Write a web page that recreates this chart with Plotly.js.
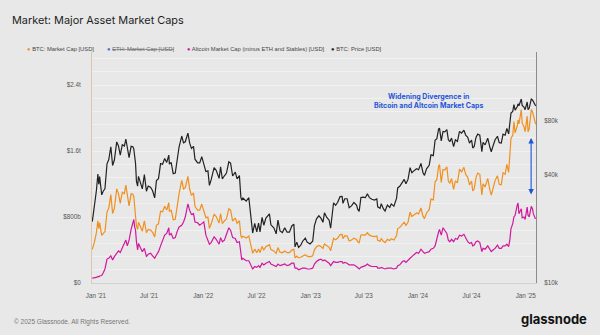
<!DOCTYPE html>
<html>
<head>
<meta charset="utf-8">
<script src="https://cdn.plot.ly/plotly-3.0.1.min.js"></script>
<style>
  html, body { margin: 0; padding: 0; background: #e8e8e8; }
  #chart { width: 600px; height: 335px; }
</style>
</head>
<body>
<div id="chart"></div>
<script>
// Dates (sampled), BTC price (thousand USD), BTC market cap (billion USD), Altcoin cap ex ETH & stables (billion USD)
const dates = [
"2020-12-20","2020-12-27","2021-01-03","2021-01-08","2021-01-11","2021-01-14","2021-01-21","2021-01-26","2021-02-01","2021-02-08",
"2021-02-14","2021-02-21","2021-02-27","2021-03-05","2021-03-13","2021-03-19","2021-03-25","2021-04-01","2021-04-08","2021-04-13",
"2021-04-18","2021-04-24","2021-05-01","2021-05-07","2021-05-10","2021-05-13","2021-05-16","2021-05-19","2021-05-23","2021-05-26",
"2021-06-01","2021-06-08","2021-06-15","2021-06-22","2021-06-28","2021-07-06","2021-07-13","2021-07-20","2021-07-26","2021-08-02",
"2021-08-09","2021-08-16","2021-08-23","2021-08-30","2021-09-06","2021-09-08","2021-09-14","2021-09-21","2021-09-28","2021-10-04",
"2021-10-11","2021-10-20","2021-10-26","2021-11-01","2021-11-08","2021-11-10","2021-11-16","2021-11-22","2021-11-29","2021-12-04",
"2021-12-13","2021-12-20","2021-12-27","2022-01-03","2022-01-10","2022-01-17","2022-01-22","2022-01-28","2022-02-07","2022-02-14",
"2022-02-24","2022-03-01","2022-03-07","2022-03-14","2022-03-21","2022-03-29","2022-04-04","2022-04-11","2022-04-20","2022-04-26",
"2022-05-04","2022-05-09","2022-05-12","2022-05-16","2022-05-27","2022-06-05","2022-06-13","2022-06-18","2022-06-25","2022-07-02",
"2022-07-08","2022-07-13","2022-07-20","2022-07-26","2022-08-02","2022-08-08","2022-08-14","2022-08-19","2022-08-29","2022-09-06",
"2022-09-12","2022-09-19","2022-09-27","2022-10-05","2022-10-13","2022-10-21","2022-10-29","2022-11-05","2022-11-09","2022-11-15",
"2022-11-21","2022-11-28","2022-12-05","2022-12-14","2022-12-20","2022-12-30","2023-01-08","2023-01-14","2023-01-21","2023-01-29",
"2023-02-05","2023-02-12","2023-02-17","2023-02-25","2023-03-05","2023-03-10","2023-03-15","2023-03-20","2023-03-27","2023-04-03",
"2023-04-11","2023-04-18","2023-04-21","2023-04-27","2023-05-05","2023-05-12","2023-05-20","2023-05-28","2023-06-06","2023-06-10",
"2023-06-15","2023-06-21","2023-06-28","2023-07-06","2023-07-13","2023-07-20","2023-07-28","2023-08-06","2023-08-14","2023-08-17",
"2023-08-25","2023-08-29","2023-09-06","2023-09-11","2023-09-19","2023-09-27","2023-10-02","2023-10-11","2023-10-20","2023-10-24",
"2023-10-31","2023-11-09","2023-11-15","2023-11-21","2023-11-28","2023-12-05","2023-12-11","2023-12-19","2023-12-27","2024-01-03",
"2024-01-11","2024-01-18","2024-01-23","2024-01-30","2024-02-08","2024-02-14","2024-02-22","2024-02-28","2024-03-05","2024-03-11",
"2024-03-14","2024-03-20","2024-03-26","2024-04-01","2024-04-08","2024-04-13","2024-04-18","2024-04-24","2024-05-01","2024-05-07",
"2024-05-14","2024-05-21","2024-05-28","2024-06-05","2024-06-11","2024-06-18","2024-06-24","2024-07-01","2024-07-05","2024-07-10",
"2024-07-16","2024-07-22","2024-07-29","2024-08-05","2024-08-09","2024-08-16","2024-08-25","2024-09-01","2024-09-06","2024-09-12",
"2024-09-19","2024-09-27","2024-10-03","2024-10-10","2024-10-16","2024-10-23","2024-10-29","2024-11-04","2024-11-08","2024-11-12",
"2024-11-18","2024-11-22","2024-11-26","2024-12-03","2024-12-06","2024-12-09","2024-12-17","2024-12-20","2024-12-26","2024-12-30",
"2025-01-06","2025-01-09","2025-01-13","2025-01-20","2025-01-24","2025-01-27","2025-02-03","2025-02-04"
];

const btcPrice = [
22.0,26.5,32.8,40.5,35.5,39.2,31.0,32.5,33.5,46.2,
48.8,57.5,45.2,48.5,61.2,58.1,51.7,59.0,58.0,63.5,
56.2,50.0,57.8,57.5,56.0,49.7,46.4,37.0,34.7,39.3,
36.7,33.5,40.2,32.5,34.7,34.2,32.7,29.8,37.3,38.2,
46.3,45.9,49.5,47.0,51.7,46.0,47.1,40.7,41.0,49.1,
57.5,66.0,60.5,61.3,67.5,68.5,60.2,56.3,57.8,49.0,
46.7,46.7,50.6,46.4,41.8,42.2,35.0,37.7,44.0,42.5,
38.3,44.4,38.0,39.6,41.0,47.4,46.6,39.5,41.5,38.1,
39.7,30.0,28.9,29.8,28.6,29.9,22.5,19.0,21.5,19.3,
21.6,19.3,23.2,21.0,23.0,23.8,24.3,21.1,20.3,18.8,
22.4,19.5,19.1,20.3,19.2,19.2,20.8,21.3,15.9,16.9,
15.8,16.2,17.1,17.8,16.9,16.5,17.1,20.9,22.8,23.7,
23.0,21.8,24.6,23.2,22.4,20.2,24.7,28.0,27.1,28.2,
30.3,30.4,27.8,29.5,29.5,26.3,26.9,28.1,27.2,25.8,
25.1,30.0,30.1,29.9,31.4,29.9,29.3,29.0,29.4,26.6,
26.1,27.7,25.8,25.2,27.2,26.4,27.6,26.8,29.6,33.9,
34.6,36.7,37.8,35.8,37.8,44.0,41.2,42.3,43.4,42.8,
46.4,41.2,39.8,43.3,45.3,51.8,51.3,62.5,63.8,72.1,
73.1,62.0,70.0,69.6,71.6,63.0,61.3,64.3,57.6,62.9,
61.6,70.1,68.4,71.1,66.8,65.0,60.3,62.7,56.6,57.7,
64.8,67.6,66.8,54.0,60.9,58.9,64.2,57.3,53.9,58.1,
62.9,65.8,60.6,60.3,67.6,66.7,72.7,67.8,76.5,88.7,
90.5,98.9,91.9,96.0,99.8,97.4,106.1,97.8,95.8,92.6,
102.1,92.5,94.5,106.1,104.8,102.0,97.7,97.0
];

const btcCap = [
409,492,610,753,660,729,577,605,624,860,
908,1071,842,904,1141,1083,964,1101,1083,1186,
1050,934,1081,1076,1048,930,869,693,650,736,
688,628,753,609,650,641,613,559,700,717,
870,863,931,885,973,866,887,767,772,925,
1083,1244,1140,1156,1273,1292,1136,1063,1092,926,
883,883,957,878,792,799,663,714,834,806,
727,842,721,752,778,900,885,751,789,724,
755,571,550,567,545,570,429,362,410,368,
412,368,443,401,439,455,465,404,389,360,
429,374,366,389,368,368,399,409,305,325,
304,312,329,342,325,317,329,402,439,456,
443,420,474,447,432,390,477,541,523,545,
586,588,538,571,571,509,521,544,527,500,
487,582,584,580,609,580,569,563,571,517,
507,538,502,490,529,514,537,522,576,660,
674,715,737,698,737,860,806,827,849,838,
909,807,780,849,889,1017,1007,1227,1253,1417,
1437,1219,1376,1369,1409,1240,1207,1266,1134,1238,
1213,1381,1348,1402,1317,1281,1189,1236,1116,1138,
1278,1333,1318,1066,1202,1163,1268,1132,1065,1148,
1243,1300,1197,1191,1336,1318,1437,1340,1513,1755,
1791,1958,1819,1900,1976,1929,2101,1937,1897,1834,
2022,1832,1872,2102,2077,2021,1936,1922
];

const altCap = [
60,62,68,80,75,85,90,120,170,290,
300,330,280,320,370,390,370,430,490,520,
450,520,650,740,770,680,640,500,400,480,
440,380,420,320,350,360,330,300,340,380,
450,520,580,600,670,580,600,540,550,620,
680,700,740,800,920,960,880,830,840,740,
730,700,720,740,580,500,470,490,560,530,
470,550,500,520,580,670,640,550,540,490,
500,360,280,300,270,270,200,170,200,190,
210,190,240,220,240,250,260,230,210,200,
230,210,220,230,210,220,240,240,180,180,
160,170,180,180,170,170,180,230,260,280,
290,270,280,260,240,210,240,260,250,250,
260,260,240,250,240,220,220,220,200,180,
170,190,200,210,230,210,200,200,200,180,
180,190,180,170,180,180,180,170,180,210,
220,260,270,250,270,300,320,340,370,360,
410,380,360,370,380,410,420,450,550,620,
650,580,670,630,600,520,500,530,500,540,
530,580,570,590,550,500,480,490,450,460,
500,510,490,380,420,410,450,410,380,400,
420,460,420,420,450,450,470,440,520,660,
720,800,820,940,970,840,900,790,800,770,
920,820,800,930,900,840,780,790
];

const leftTickVals = [0, 800, 1600, 2400];
const leftTickText = ["$0", "$800b", "$1.6t", "$2.4t"];
const rightTickVals = [10, 40, 80];
const rightTickText = ["$10k", "$40k", "$80k"];
const xTickVals = ["2021-01-01","2021-07-01","2022-01-01","2022-07-01","2023-01-01","2023-07-01","2024-01-01","2024-07-01","2025-01-01"];
const xTickText = ["Jan '21","Jul '21","Jan '22","Jul '22","Jan '23","Jul '23","Jan '24","Jul '24","Jan '25"];

const FONT = "'Liberation Sans', Arial, sans-serif";
const TITLEFONT = "Inter, 'Liberation Sans', Arial, sans-serif";
const ORANGE = "#f0901e", MAGENTA = "#d0189e", BLACK = "#222222", ETHBLUE = "#5266c8", ANNOT = "#1f55d6";

const traces = [
  { x: dates, y: btcCap, type: "scatter", mode: "lines", name: "BTC: Market Cap [USD]",
    line: { color: ORANGE, width: 1.2 }, yaxis: "y", showlegend: false, hoverinfo: "skip" },
  { x: dates, y: altCap, type: "scatter", mode: "lines", name: "Altcoin Market Cap (minus ETH and Stables) [USD]",
    line: { color: MAGENTA, width: 1.2 }, yaxis: "y", showlegend: false, hoverinfo: "skip" },
  { x: dates, y: btcPrice, type: "scatter", mode: "lines", name: "BTC: Price [USD]",
    line: { color: BLACK, width: 1.2 }, yaxis: "y2", showlegend: false, hoverinfo: "skip" }
];

function legendItem(x, color, label, textColor) {
  return { xref: "paper", yref: "paper", x: x, y: 1.015, xanchor: "left", yanchor: "middle",
    showarrow: false, font: { family: FONT, size: 5.8, color: textColor || "#444" },
    text: "<span style='color:" + color + "'>●</span> " + label };
}

const layout = {
  width: 600, height: 335,
  paper_bgcolor: "#e8e8e8", plot_bgcolor: "#e8e8e8",
  margin: { l: 92, r: 64, t: 52, b: 52 },
  font: { family: FONT, color: "#555" },
  title: { text: "Market: Major Asset Market Caps", x: 12/600, xref: "container", xanchor: "left",
           y: 1 - 20/335, yref: "container", yanchor: "middle",
           font: { family: TITLEFONT, size: 10.9, color: "#1e1e1e" } },
  xaxis: {
    type: "date", range: ["2020-12-19", "2025-02-05"],
    tickvals: xTickVals, ticktext: xTickText,
    tickfont: { size: 6.3, color: "#555" },
    showgrid: false, zeroline: false,
    showline: true, linecolor: "#d2d2d2", linewidth: 1,
    ticks: "", ticklabelstandoff: 6
  },
  yaxis: {
    range: [0, 2800],
    tickvals: leftTickVals, ticktext: leftTickText,
    tickfont: { size: 6.3, color: "#555" },
    showgrid: true, gridcolor: "#f1f1f1", gridwidth: 1,
    minor: { tickvals: [160,320,480,640,960,1120,1280,1440,1760,1920,2080,2240,2560,2720], showgrid: true, gridcolor: "#f1f1f1", gridwidth: 1, ticks: "" },
    zeroline: false, showline: true, linecolor: "#dcc7ad", linewidth: 1,
    ticks: "", ticklabelstandoff: 9
  },
  yaxis2: {
    type: "log", range: [1, 2.288], overlaying: "y", side: "right",
    tickvals: rightTickVals, ticktext: rightTickText,
    tickfont: { size: 6.3, color: "#555" },
    showgrid: false, zeroline: false,
    showline: true, linecolor: "#8c8c8c", linewidth: 1,
    ticks: "", ticklabelstandoff: 6
  },
  annotations: [
    legendItem(-0.151, ORANGE, "BTC: Market Cap [USD]"),
    legendItem(0.029, ETHBLUE, "<span style='text-decoration:line-through'>ETH: Market Cap [USD]</span>", "#666"),
    legendItem(0.209, MAGENTA, "Altcoin Market Cap (minus ETH and Stables) [USD]"),
    legendItem(0.533, BLACK, "BTC: Price [USD]"),
    { xref: "paper", yref: "paper", x: 0.757, y: 0.786, xanchor: "center", yanchor: "middle",
      showarrow: false, align: "center",
      font: { family: TITLEFONT, size: 7, color: ANNOT },
      text: "<b>Widening Divergence in<br>Bitcoin and Altcoin Market Caps</b>" },
    { xref: "paper", yref: "paper", x: 0.989, y: 0.628, ax: 0, ay: 58,
      showarrow: true, arrowside: "end+start", arrowhead: 2, arrowsize: 1, arrowwidth: 1.1,
      arrowcolor: ANNOT, text: "" },
    { xref: "paper", yref: "paper", x: -0.18, y: -0.169, xanchor: "left", yanchor: "middle",
      showarrow: false, font: { family: FONT, size: 6.5, color: "#777" },
      text: "© 2025 Glassnode. All Rights Reserved." },
    { xref: "paper", yref: "paper", x: 1.119, y: -0.155, xanchor: "right", yanchor: "middle",
      showarrow: false, font: { family: TITLEFONT, size: 13, color: "#111" },
      text: "<b>glassnode</b>" }
  ]
};

Plotly.newPlot("chart", traces, layout, { displayModeBar: false, staticPlot: true });
</script>
</body>
</html>
